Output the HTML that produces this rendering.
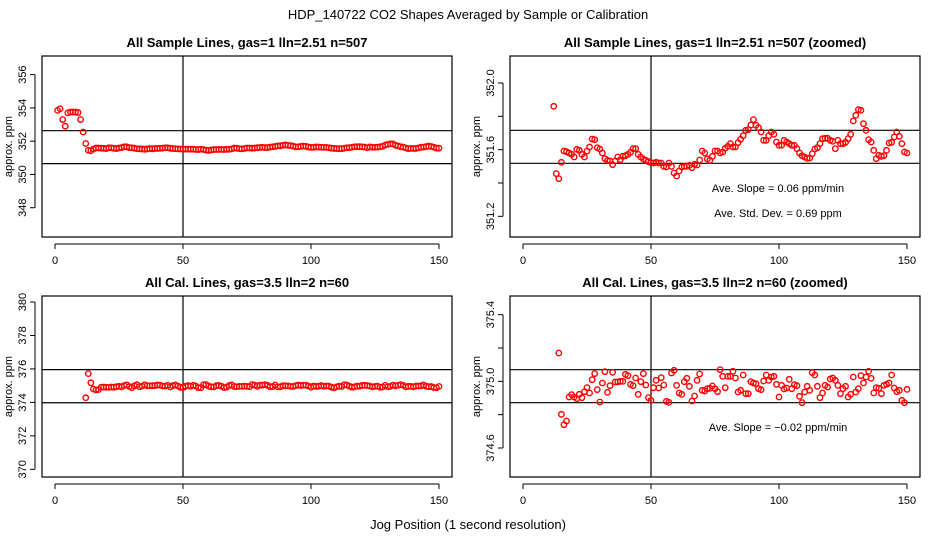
<!DOCTYPE html>
<html><head><meta charset="utf-8"><style>
html,body{margin:0;padding:0;background:#fff}
svg{display:block;font-family:"Liberation Sans",sans-serif}
</style></head><body>
<svg id="c" width="936" height="540" viewBox="0 0 936 540">
<text x="468" y="19" text-anchor="middle" font-size="13">HDP_140722  CO2 Shapes Averaged by Sample or Calibration</text>
<text x="468" y="529" text-anchor="middle" font-size="13">Jog Position (1 second resolution)</text>
</svg>
<script>
const sampleEarly = [353.85,353.95,353.3,352.9,353.7,353.75,353.75,353.75,353.72,353.3,352.55];
const sampleMain = [351.860,351.456,351.426,351.524,351.592,351.588,351.580,351.572,351.556,351.602,351.596,351.572,351.556,351.592,351.616,351.664,351.660,351.612,351.604,351.580,351.546,351.536,351.532,351.510,351.532,351.556,351.540,351.560,351.564,351.572,351.584,351.606,351.606,351.572,351.556,351.544,351.536,351.528,351.522,351.520,351.524,351.520,351.520,351.500,351.496,351.520,351.500,351.460,351.442,351.472,351.496,351.500,351.500,351.506,351.492,351.512,351.508,351.538,351.592,351.580,351.544,351.536,351.560,351.592,351.592,351.580,351.586,351.608,351.620,351.636,351.616,351.616,351.642,351.662,351.684,351.716,351.720,351.748,351.780,351.746,351.732,351.706,351.656,351.656,351.684,351.706,351.692,351.646,351.626,351.626,351.656,351.646,351.636,351.626,351.626,351.606,351.580,351.564,351.556,351.548,351.550,351.576,351.604,351.612,351.636,351.666,351.668,351.668,351.656,351.650,351.606,351.656,351.636,351.636,351.644,351.666,351.692,351.772,351.806,351.840,351.836,351.756,351.716,351.660,351.646,351.596,351.546,351.566,351.560,351.564,351.596,351.640,351.644,351.676,351.706,351.680,351.636,351.586,351.580];
const calEarly = [374.28,375.72];
const calMain = [375.170,374.802,374.740,374.762,374.906,374.920,374.906,374.896,374.922,374.902,374.938,374.962,374.930,375.010,375.046,374.950,374.876,374.990,375.058,374.934,374.974,375.054,374.996,374.996,375.000,375.000,375.042,375.034,374.982,374.974,375.020,374.922,374.998,375.046,374.978,374.902,374.886,374.962,375.006,374.960,375.022,374.978,374.880,374.874,375.050,375.066,374.976,374.930,374.922,374.998,375.018,374.970,374.882,374.912,375.006,375.044,374.946,374.942,374.956,374.958,374.972,374.956,374.938,375.070,375.030,374.962,375.030,375.030,375.060,375.020,374.936,374.946,375.038,374.926,374.926,374.998,374.990,374.986,374.956,374.950,375.002,375.038,375.006,375.026,375.030,374.982,374.906,374.976,374.954,374.960,375.012,374.956,374.980,374.974,374.910,374.872,374.936,374.970,374.946,375.052,375.038,374.970,374.902,374.930,374.976,374.966,375.014,375.020,375.006,374.976,374.926,374.956,374.970,374.906,374.922,375.026,374.936,374.956,375.034,374.990,375.026,375.060,375.018,374.930,374.962,374.958,374.926,374.976,374.982,374.990,375.038,374.960,374.938,374.946,374.886,374.872,374.952];
const xTicks = [0,50,100,150];
const ticksTL = [348,350,352,354,356];
const ticksTR = [351.2,351.4,351.6,351.8,352.0];
const labelsTR = ["351.2","","351.6","","352.0"];
const ticksBL = [370,372,374,376,378,380];
const ticksBR = [374.6,374.8,375.0,375.2,375.4];
const labelsBR = ["374.6","","375.0","","375.4"];
const hLinesTL = [352.63,350.65];
const hLinesTR = [351.716,351.518];
const hLinesBL = [375.96,373.98];
const hLinesBR = [375.07,374.872];
const vLine = 50;

const NS = "http://www.w3.org/2000/svg";
const svg = document.getElementById('c');
function mk(tag, attrs, parent){const e=document.createElementNS(NS,tag);for(const k in attrs)e.setAttribute(k,attrs[k]);(parent||svg).appendChild(e);return e;}

function panel(o){
  const g = mk('g',{});
  
  
  const L=o.x0,R=o.x1,T=o.y0,B=o.y1;
  const xs = v => 55 + (L-42) + v*2.56;
  const ys = v => B - (v-o.ymin)/(o.ymax-o.ymin)*(B-T);
  const clipId = 'clip'+o.name;
  const cp = mk('clipPath',{id:clipId},g); mk('rect',{x:L,y:T,width:R-L,height:B-T},cp);
  const t = mk('text',{x:(L+R)/2,y:T-9,'text-anchor':'middle','font-size':13,'font-weight':'bold'},g);
  t.textContent=o.title;
  
  
  const box = mk('rect',{x:L,y:T,width:R-L,height:B-T,fill:'none',stroke:'#000','stroke-width':1.2},g);
  
  
  mk('line',{x1:xs(xTicks[0]),x2:xs(xTicks[xTicks.length-1]),y1:B+7,y2:B+7,stroke:'#000'},g);
  xTicks.forEach(v=>{
    mk('line',{x1:xs(v),x2:xs(v),y1:B+7,y2:B+12,stroke:'#000'},g);
    const tl=mk('text',{x:xs(v),y:B+27,'text-anchor':'middle','font-size':11},g);
    tl.textContent=v;
    
    
  });
  mk('line',{x1:L-7,x2:L-7,y1:ys(o.ticks[0]),y2:ys(o.ticks[o.ticks.length-1]),stroke:'#000'},g);
  o.ticks.forEach((v,i)=>{
    mk('line',{x1:L-12,x2:L-7,y1:ys(v),y2:ys(v),stroke:'#000'},g);
    const lab = o.labels ? o.labels[i] : String(v);
    if(lab){
      const tl=mk('text',{x:0,y:0,'text-anchor':'middle','font-size':11,transform:`translate(${L-16},${ys(v)}) rotate(-90)`},g);
      tl.textContent=lab;
      
      
    }
  });
  const yl=mk('text',{x:0,y:0,'text-anchor':'middle','font-size':11,transform:`translate(${L-30},${(T+B)/2}) rotate(-90)`},g);
  yl.textContent='approx. ppm';
  
  
  const vl=mk('line',{x1:xs(vLine),x2:xs(vLine),y1:T,y2:B,stroke:'#000','stroke-width':1.2},g);
  
  
  o.hl.forEach(v=>{
    const hl=mk('line',{x1:L,x2:R,y1:ys(v),y2:ys(v),stroke:'#000','stroke-width':1.2},g);
    
    
  });
  const pg = mk('g',{'clip-path':`url(#${clipId})`},g);
  o.pts.forEach(p=>{
    const c=mk('circle',{cx:xs(p[0]),cy:ys(p[1]),r:2.7,fill:'none',stroke:'#f00','stroke-width':1.4},pg);
    
    
  });
  (o.notes||[]).forEach(n=>{
    const tx=mk('text',{x:n[0],y:n[1],'text-anchor':'middle','font-size':11},g);
    tx.textContent=n[2];
    
    
  });
}
const samplePts = sampleEarly.map((v,i)=>[i+1,v]).concat(sampleMain.map((v,i)=>[i+12,v]));
const calPts = calEarly.map((v,i)=>[i+12,v]).concat(calMain.map((v,i)=>[i+14,v]));

panel({name:'panel-sample-all',title:'All Sample Lines, gas=1 lln=2.51 n=507',x0:42,x1:452,y0:56,y1:237,ymin:346.24,ymax:357.12,ticks:ticksTL,hl:hLinesTL,pts:samplePts});
panel({name:'panel-sample-zoomed',title:'All Sample Lines, gas=1 lln=2.51 n=507 (zoomed)',x0:510,x1:920,y0:56,y1:237,ymin:351.076,ymax:352.162,ticks:ticksTR,labels:labelsTR,hl:hLinesTR,pts:samplePts,
  notes:[[778,192,'Ave. Slope =  0.06  ppm/min'],[778,217,'Ave. Std. Dev. =  0.69  ppm']]});
panel({name:'panel-cal-all',title:'All Cal. Lines, gas=3.5 lln=2 n=60',x0:42,x1:452,y0:296,y1:477,ymin:369.54,ymax:380.36,ticks:ticksBL,hl:hLinesBL,pts:calPts});
panel({name:'panel-cal-zoomed',title:'All Cal. Lines, gas=3.5 lln=2 n=60 (zoomed)',x0:510,x1:920,y0:296,y1:477,ymin:374.426,ymax:375.512,ticks:ticksBR,labels:labelsBR,hl:hLinesBR,pts:calPts,
  notes:[[778,431,'Ave. Slope =  \u22120.02  ppm/min']]});
</script>
</body></html>
